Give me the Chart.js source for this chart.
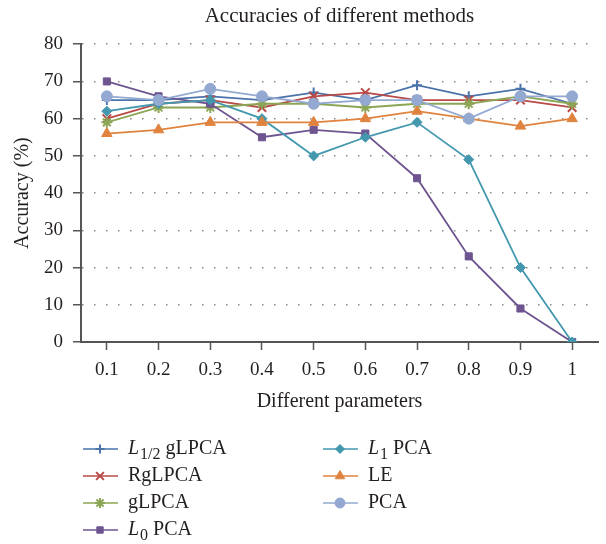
<!DOCTYPE html>
<html>
<head>
<meta charset="utf-8">
<script src="https://cdn.jsdelivr.net/npm/chart.js@4.4.0/dist/chart.umd.min.js"></script>
<style>
  html, body { margin: 0; padding: 0; background: #fff; }
  #wrap { width: 606px; height: 544px; }
</style>
</head>
<body>
<div id="wrap"><canvas id="accChart"></canvas></div>
<script>
// x categories
const parameters = ['0.1', '0.2', '0.3', '0.4', '0.5', '0.6', '0.7', '0.8', '0.9', '1'];

// accuracy (%) per method
const l12gLPCA = [65, 65, 66, 65, 67, 65, 69, 66, 68, 64];
const rgLPCA   = [60, 64, 65, 63, 66, 67, 65, 65, 65, 63];
const gLPCA    = [59, 63, 63, 64, 64, 63, 64, 64, 66, 64];
const l0PCA    = [70, 66, 64, 55, 57, 56, 44, 23, 9, 0];
const l1PCA    = [62, 64, 65, 60, 50, 55, 59, 49, 20, 0];
const le       = [56, 57, 59, 59, 59, 60, 62, 60, 58, 60];
const pca      = [66, 65, 68, 66, 64, 65, 65, 60, 66, 66];

const yMin = 0, yMax = 80, yStep = 10;

// "L_x rest" means italic L with subscript x
const methodNames = ['L_1/2 gLPCA', 'RgLPCA', 'gLPCA', 'L_0 PCA', 'L_1 PCA', 'LE', 'PCA'];
const methodValues = [l12gLPCA, rgLPCA, gLPCA, l0PCA, l1PCA, le, pca];
const methodColors = ['#4a73aa', '#b84a47', '#8ba654', '#6e5590', '#4398ae', '#e0833f', '#93a9d2'];
const methodPoints = ['cross', 'crossRot', 'star', 'rect', 'rectRot', 'triangle', 'circle'];
const pointSizes = [5, 6, 5.5, 5, 5, 6, 5.5];

const serif = '"Liberation Serif", "DejaVu Serif", serif';
const textColor = '#231f20';
Chart.defaults.font.family = serif;

const strokeOnly = (s) => s === 'cross' || s === 'crossRot' || s === 'star';

const datasets = methodNames.map((name, i) => ({
    label: name.replace('_', ''),
    data: methodValues[i],
    borderColor: methodColors[i],
    backgroundColor: methodColors[i],
    borderWidth: 1.8,
    pointStyle: methodPoints[i],
    pointRadius: pointSizes[i],
    pointBorderWidth: strokeOnly(methodPoints[i]) ? 2 : 1,
    pointBorderColor: methodColors[i],
    pointBackgroundColor: methodColors[i],
    tension: 0,
    order: methodNames.length - i
}));

function drawLabel(ctx, name, x, y) {
    const m = name.match(/^L_(\S+) (.*)$/);
    ctx.textBaseline = 'middle';
    ctx.textAlign = 'left';
    ctx.fillStyle = textColor;
    if (!m) {
        ctx.font = '20px ' + serif;
        ctx.fillText(name, x, y);
        return;
    }
    ctx.font = 'italic 20px ' + serif;
    ctx.fillText('L', x, y);
    x += ctx.measureText('L').width + 1;
    ctx.font = '16px ' + serif;
    ctx.fillText(m[1], x, y + 6);
    x += ctx.measureText(m[1]).width;
    ctx.font = '20px ' + serif;
    ctx.fillText(' ' + m[2], x, y);
}

// two-column legend under the x axis title
const columnLegend = {
    id: 'columnLegend',
    afterDraw(chart) {
        const ctx = chart.ctx;
        ctx.save();
        chart.data.datasets.forEach((ds, i) => {
            const col = i < 4 ? 0 : 1;
            const row = col === 0 ? i : i - 4;
            const x0 = col === 0 ? 83 : 323;
            const y = 449 + row * 27;
            ctx.strokeStyle = ds.borderColor;
            ctx.fillStyle = ds.borderColor;
            ctx.lineWidth = 1.6;
            ctx.setLineDash([]);
            ctx.beginPath();
            ctx.moveTo(x0, y);
            ctx.lineTo(x0 + 35, y);
            ctx.stroke();
            ctx.lineWidth = ds.pointBorderWidth;
            Chart.helpers.drawPoint(ctx, {
                pointStyle: ds.pointStyle,
                radius: ds.pointRadius - 0.5,
                borderWidth: ds.pointBorderWidth,
                rotation: 0
            }, x0 + 17, y);
            drawLabel(ctx, methodNames[i], x0 + 45, y);
        });
        ctx.restore();
    }
};

new Chart(document.getElementById('accChart'), {
    type: 'line',
    data: { labels: parameters, datasets: datasets },
    plugins: [columnLegend],
    options: {
        responsive: true,
        maintainAspectRatio: false,
        animation: false,
        layout: { padding: { left: 0, right: 8, top: 0, bottom: 120 } },
        plugins: {
            legend: { display: false },
            tooltip: { enabled: false },
            title: {
                display: true,
                text: 'Accuracies of different methods',
                fullSize: false,
                color: textColor,
                font: { size: 21, weight: 'normal' },
                padding: { top: 4, bottom: 15 }
            }
        },
        scales: {
            x: {
                offset: true,
                ticks: { color: textColor, font: { size: 19 }, padding: 9, maxRotation: 0 },
                grid: { drawOnChartArea: false, tickLength: 8, tickColor: '#555', tickWidth: 1.5 },
                border: { color: '#555', width: 2 },
                title: {
                    display: true,
                    text: 'Different parameters',
                    color: textColor,
                    font: { size: 20 },
                    padding: { top: 0, bottom: 10 }
                },
                afterFit(scale) { scale.height = 82; }
            },
            y: {
                min: yMin,
                max: yMax,
                ticks: { stepSize: yStep, color: textColor, font: { size: 19 }, padding: 10 },
                grid: { color: '#8a8a8a', lineWidth: 1.5, tickLength: 8, tickColor: '#555', tickWidth: 1.5 },
                border: { color: '#555', width: 2, dash: [1.5, 10.5], dashOffset: 0 },
                title: {
                    display: true,
                    text: 'Accuracy (%)',
                    color: textColor,
                    font: { size: 20 },
                    padding: { top: 11, bottom: 0 }
                },
                afterFit(scale) { scale.width = 81; }
            }
        }
    }
});
</script>
</body>
</html>
